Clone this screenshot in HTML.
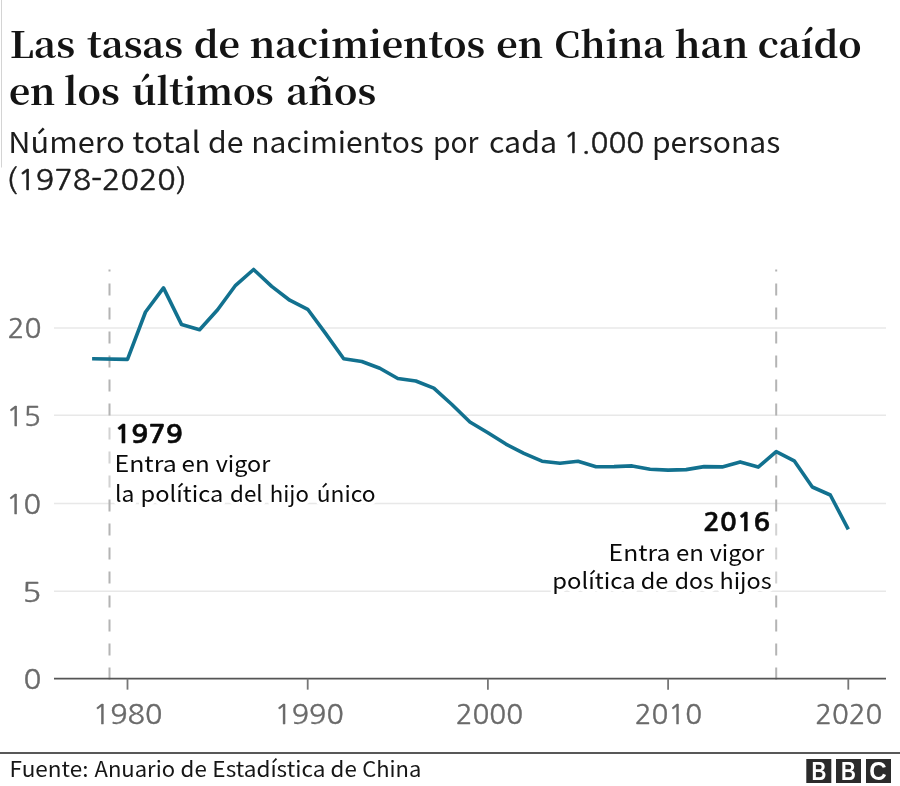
<!DOCTYPE html>
<html lang="es">
<head>
<meta charset="utf-8">
<title>Las tasas de nacimientos en China han caído en los últimos años</title>
<style>
html,body{margin:0;padding:0;background:#fff;}
body{width:900px;height:786px;overflow:hidden;}
svg{display:block;}
text{font-family:"Noto Sans CJK SC","Liberation Sans",sans-serif;white-space:pre;}
.t{font-family:"Noto Serif CJK SC","DejaVu Serif","Liberation Serif",serif;font-weight:bold;font-size:37px;fill:#141414;}
.s{font-size:29px;fill:#1c1c1c;}
.y,.x{font-family:"NanumGothic","Noto Sans CJK SC","Liberation Sans",sans-serif;font-size:27px;fill:#6a6a6a;stroke:#6a6a6a;stroke-width:0.4;}
.sn{font-family:"NanumGothic","Noto Sans CJK SC","Liberation Sans",sans-serif;font-size:28.4px;stroke:#1c1c1c;stroke-width:0.5;}
.grid line{stroke:#e8e8e8;stroke-width:1.5;}
.ticks line{stroke:#777;stroke-width:1.8;}
.dash line{stroke:#b4b4b4;stroke-width:2;stroke-dasharray:12 12;}
.a{font-size:22.4px;fill:#0a0a0a;stroke:#fff;stroke-width:7;stroke-linejoin:round;paint-order:stroke;}
.ab{font-family:"NanumGothic","Noto Sans CJK SC","Liberation Sans",sans-serif;font-weight:bold;font-size:25.2px;fill:#0a0a0a;stroke:#0a0a0a;stroke-width:0.5;}
.src{font-size:21px;fill:#161616;}
.bbc rect{fill:#2b2b2b;}
.bl{font-family:'Liberation Sans',sans-serif;font-weight:bold;font-size:25px;fill:#fff;}
</style>
</head>
<body>
<svg width="900" height="786" viewBox="0 0 900 786">
<rect width="900" height="786" fill="#fff"/>
<line x1="1.5" x2="1.5" y1="0" y2="167.5" stroke="#d4d4d4" stroke-width="1"/>
<g class="grid"><line x1="54" x2="886" y1="591.3" y2="591.3"/><line x1="54" x2="886" y1="503.5" y2="503.5"/><line x1="54" x2="886" y1="415.3" y2="415.3"/><line x1="54" x2="886" y1="328.0" y2="328.0"/></g>
<g class="dash">
<line x1="109.5" x2="109.5" y1="679.4" y2="269.4"/>
<line x1="776.2" x2="776.2" y1="679.4" y2="269.4"/>
</g>
<rect x="107" y="422" width="6" height="72" fill="#fff" opacity="0.4"/>
<rect x="773.5" y="514" width="6" height="76" fill="#fff" opacity="0.4"/>
<line x1="54" x2="886" y1="678.65" y2="678.65" stroke="#555" stroke-width="1.7"/>
<g class="ticks"><line x1="127.5" x2="127.5" y1="678.65" y2="689.65"/><line x1="307.7" x2="307.7" y1="678.65" y2="689.65"/><line x1="487.9" x2="487.9" y1="678.65" y2="689.65"/><line x1="668.1" x2="668.1" y1="678.65" y2="689.65"/><line x1="848.3" x2="848.3" y1="678.65" y2="689.65"/></g>
<polyline fill="none" stroke="#12718f" stroke-width="3.6" stroke-linejoin="round" stroke-linecap="butt" points="92.1,358.7 127.5,359.4 145.5,312.0 163.5,287.9 181.6,324.6 199.6,329.7 217.6,309.7 235.6,285.3 253.6,269.5 271.7,286.4 289.7,300.2 307.7,309.3 325.7,333.6 343.7,358.8 361.8,361.5 379.8,368.3 397.8,378.5 415.8,381.0 433.8,388.1 451.9,404.5 469.9,422.0 487.9,432.7 505.9,444.1 523.9,453.3 542.0,461.2 560.0,463.3 578.0,461.3 596.0,466.8 614.0,466.6 632.1,465.9 650.1,469.2 668.1,470.1 686.1,469.6 704.1,466.6 722.2,466.9 740.2,461.9 758.2,467.1 776.2,451.7 794.2,460.8 812.3,487.0 830.3,495.0 848.3,529.4"/>
<line x1="0" x2="900" y1="752.95" y2="752.95" stroke="#585858" stroke-width="2"/>
<g class="bbc">
<rect x="806.3" y="759" width="25" height="24"/><rect x="836" y="759" width="25" height="24"/><rect x="866" y="759" width="25" height="24"/>
</g>
<text class="t" y="57.7"><tspan x="9.77" textLength="65.50" lengthAdjust="spacingAndGlyphs">Las</tspan> <tspan x="86.90" textLength="96.27" lengthAdjust="spacingAndGlyphs">tasas</tspan> <tspan x="193.98" textLength="46.01" lengthAdjust="spacingAndGlyphs">de</tspan> <tspan x="249.79" textLength="235.28" lengthAdjust="spacingAndGlyphs">nacimientos</tspan> <tspan x="496.26" textLength="47.02" lengthAdjust="spacingAndGlyphs">en</tspan> <tspan x="554.31" textLength="110.54" lengthAdjust="spacingAndGlyphs">China</tspan> <tspan x="674.58" textLength="73.77" lengthAdjust="spacingAndGlyphs">han</tspan> <tspan x="757.69" textLength="103.98" lengthAdjust="spacingAndGlyphs">caído</tspan></text>
<text class="t" y="105.2"><tspan x="8.91" textLength="46.52" lengthAdjust="spacingAndGlyphs">en</tspan> <tspan x="63.98" textLength="55.79" lengthAdjust="spacingAndGlyphs">los</tspan> <tspan x="131.72" textLength="142.04" lengthAdjust="spacingAndGlyphs">últimos</tspan> <tspan x="286.28" textLength="89.89" lengthAdjust="spacingAndGlyphs">años</tspan></text>
<text class="s" y="153.2"><tspan x="8.38" textLength="116.53" lengthAdjust="spacingAndGlyphs">Número</tspan> <tspan x="132.30" textLength="68.36" lengthAdjust="spacingAndGlyphs">total</tspan> <tspan x="207.99" textLength="35.48" lengthAdjust="spacingAndGlyphs">de</tspan> <tspan x="251.23" textLength="172.66" lengthAdjust="spacingAndGlyphs">nacimientos</tspan> <tspan x="433.06" textLength="45.52" lengthAdjust="spacingAndGlyphs">por</tspan> <tspan x="488.95" textLength="68.08" lengthAdjust="spacingAndGlyphs">cada</tspan> <tspan class="sn" x="563.63" textLength="80.62" lengthAdjust="spacingAndGlyphs">1.000</tspan> <tspan x="651.93" textLength="128.26" lengthAdjust="spacingAndGlyphs">personas</tspan></text>
<text class="s" y="189.5"><tspan class="sn" x="6.39" textLength="180.38" lengthAdjust="spacingAndGlyphs">(1978-2020)</tspan></text>
<text class="ab" y="442.7"><tspan x="114.21" textLength="68.63" lengthAdjust="spacingAndGlyphs">1979</tspan></text>
<text class="a" y="471.6"><tspan x="114.47" textLength="62.31" lengthAdjust="spacingAndGlyphs">Entra</tspan> <tspan x="181.60" textLength="28.11" lengthAdjust="spacingAndGlyphs">en</tspan> <tspan x="215.70" textLength="54.67" lengthAdjust="spacingAndGlyphs">vigor</tspan></text>
<text class="a" y="501.5"><tspan x="115.08" textLength="19.44" lengthAdjust="spacingAndGlyphs">la</tspan> <tspan x="140.59" textLength="82.81" lengthAdjust="spacingAndGlyphs">política</tspan> <tspan x="230.00" textLength="32.66" lengthAdjust="spacingAndGlyphs">del</tspan> <tspan x="269.72" textLength="39.15" lengthAdjust="spacingAndGlyphs">hijo</tspan> <tspan x="316.68" textLength="58.90" lengthAdjust="spacingAndGlyphs">único</tspan></text>
<text class="ab" y="531.2"><tspan x="703.38" textLength="66.93" lengthAdjust="spacingAndGlyphs">2016</tspan></text>
<text class="a" y="560.7"><tspan x="608.59" textLength="61.78" lengthAdjust="spacingAndGlyphs">Entra</tspan> <tspan x="675.92" textLength="27.96" lengthAdjust="spacingAndGlyphs">en</tspan> <tspan x="709.70" textLength="54.57" lengthAdjust="spacingAndGlyphs">vigor</tspan></text>
<text class="a" y="588.9"><tspan x="552.38" textLength="83.23" lengthAdjust="spacingAndGlyphs">política</tspan> <tspan x="640.78" textLength="27.62" lengthAdjust="spacingAndGlyphs">de</tspan> <tspan x="674.77" textLength="39.13" lengthAdjust="spacingAndGlyphs">dos</tspan> <tspan x="719.41" textLength="52.29" lengthAdjust="spacingAndGlyphs">hijos</tspan></text>
<text class="src" y="777.35"><tspan x="9.61" textLength="78.79" lengthAdjust="spacingAndGlyphs">Fuente:</tspan> <tspan x="94.50" textLength="80.56" lengthAdjust="spacingAndGlyphs">Anuario</tspan> <tspan x="180.61" textLength="26.20" lengthAdjust="spacingAndGlyphs">de</tspan> <tspan x="212.35" textLength="113.04" lengthAdjust="spacingAndGlyphs">Estadística</tspan> <tspan x="330.58" textLength="26.20" lengthAdjust="spacingAndGlyphs">de</tspan> <tspan x="362.20" textLength="59.16" lengthAdjust="spacingAndGlyphs">China</tspan></text>
<text class="bl" y="779.5"><tspan x="811.38" textLength="14.89" lengthAdjust="spacingAndGlyphs">B</tspan></text>
<text class="bl" y="779.5"><tspan x="841.07" textLength="14.89" lengthAdjust="spacingAndGlyphs">B</tspan></text>
<text class="bl" y="779.5"><tspan x="869.24" textLength="17.42" lengthAdjust="spacingAndGlyphs">C</tspan></text>
<text class="y" y="337.9"><tspan x="7.46" textLength="33.95" lengthAdjust="spacingAndGlyphs">20</tspan></text>
<text class="y" y="425.9"><tspan x="6.33" textLength="34.61" lengthAdjust="spacingAndGlyphs">15</tspan></text>
<text class="y" y="513.7"><tspan x="6.08" textLength="35.08" lengthAdjust="spacingAndGlyphs">10</tspan></text>
<text class="y" y="601.5"><tspan x="22.35" textLength="19.26" lengthAdjust="spacingAndGlyphs">5</tspan></text>
<text class="y" y="689.4"><tspan x="23.61" textLength="17.88" lengthAdjust="spacingAndGlyphs">0</tspan></text>
<text class="x" y="724.4"><tspan x="92.81" textLength="69.64" lengthAdjust="spacingAndGlyphs">1980</tspan></text>
<text class="x" y="724.4"><tspan x="274.53" textLength="69.21" lengthAdjust="spacingAndGlyphs">1990</tspan></text>
<text class="x" y="724.4"><tspan x="455.67" textLength="67.43" lengthAdjust="spacingAndGlyphs">2000</tspan></text>
<text class="x" y="724.4"><tspan x="634.67" textLength="67.43" lengthAdjust="spacingAndGlyphs">2010</tspan></text>
<text class="x" y="724.4"><tspan x="815.18" textLength="67.02" lengthAdjust="spacingAndGlyphs">2020</tspan></text>
</svg>
</body>
</html>
